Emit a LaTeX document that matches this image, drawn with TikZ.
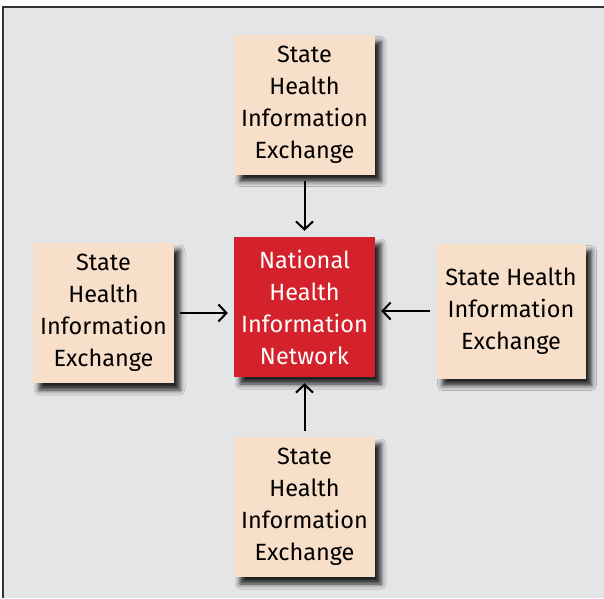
\documentclass[tikz,border=0pt]{standalone}
\usepackage{fontspec}
\setmainfont{Fira Sans}
\usetikzlibrary{arrows.meta, positioning, shadows.blur}
\definecolor{peach}{HTML}{F8DFC9}
\definecolor{nhinred}{HTML}{D3222B}
\definecolor{panelgray}{HTML}{E4E5E7}

\begin{document}
\begin{tikzpicture}[x=1pt, y=-1pt,
    every node/.style={font=\fontsize{23.5}{32}\selectfont, align=center, inner sep=0pt},
    hiebox/.style={fill=peach, minimum width=141pt, minimum height=140pt,
        blur shadow={shadow xshift=6pt, shadow yshift=-7pt, shadow blur radius=5pt, shadow opacity=85}},
    nhinbox/.style={hiebox, fill=nhinred, text=white},
    flow/.style={-{Straight Barb[length=8pt, width=17pt]}, line width=2pt, shorten >=6pt, shorten <=6pt}]
    \useasboundingbox (0,0) rectangle (604,598);

    % Panel
    \fill[panelgray] (3,7) rectangle (604,598);
    \draw[line width=2pt, black!80] (3,598) -- (3,7) -- (604,7);

    % Exchanges and network
    \node[nhinbox] (nhin) at (304.5,307) {National\\Health\\Information\\Network};
    \node[hiebox] (hieN) at (304.5,104.5) {State\\Health\\Information\\Exchange};
    \node[hiebox] (hieW) at (103.5,313) {State\\Health\\Information\\Exchange};
    \node[hiebox, minimum width=149pt, minimum height=135pt] (hieE) at (511,311) {State Health\\Information\\Exchange};
    \node[hiebox] (hieS) at (304.5,507) {State\\Health\\Information\\Exchange};

    % Connectors
    \draw[flow] (hieN) -- (nhin);
    \draw[flow] (hieS) -- (nhin);
    \draw[flow] (hieW.east) -- (hieW.east -| nhin.west);
    \draw[flow] (hieE.west) -- (hieE.west -| nhin.east);
\end{tikzpicture}
\end{document}
